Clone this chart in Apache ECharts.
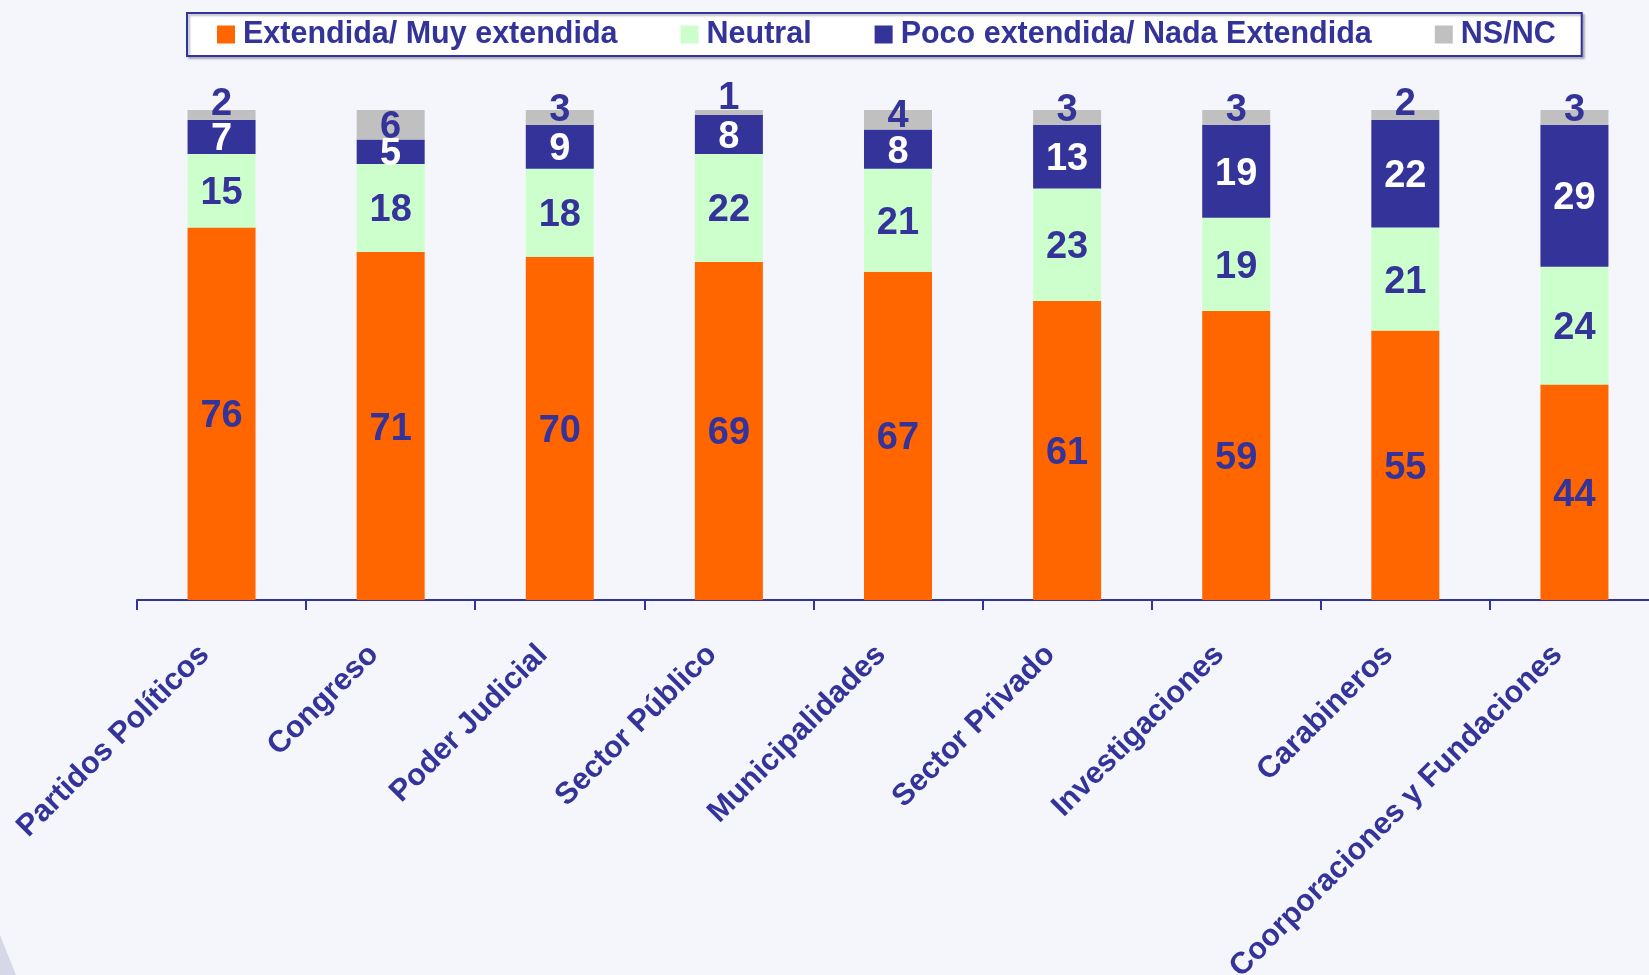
<!DOCTYPE html>
<html>
<head>
<meta charset="utf-8">
<script src="https://cdn.jsdelivr.net/npm/echarts@6/dist/echarts.min.js"></script>
<style>
html,body{margin:0;padding:0;background:#F5F6FB;}
#chart{width:1649px;height:975px;}
</style>
</head>
<body>
<div id="chart"></div>
<script>
const categories = ['Partidos Políticos','Congreso','Poder Judicial','Sector Público','Municipalidades','Sector Privado','Investigaciones','Carabineros','Coorporaciones y Fundaciones'];
const seriesNames = ['Extendida/ Muy extendida','Neutral','Poco extendida/ Nada Extendida','NS/NC'];
const extendida = [76,71,70,69,67,61,59,55,44];
const neutral = [15,18,18,22,21,23,19,21,24];
const poco = [7,5,9,8,8,13,19,22,29];
const nsnc = [2,6,3,1,4,3,3,2,3];

const FONT = '"Liberation Sans", Arial, sans-serif';
const TXT = '#333399';
const colors = ['#FF6600','#CCFFCC','#333399','#C0C0C0'];
const labelColors = [TXT, TXT, '#FFFFFF', TXT];

function mkSeries(idx, values){
  return {
    name: seriesNames[idx],
    type: 'bar',
    stack: 'total',
    barWidth: 68,
    itemStyle: {color: colors[idx]},
    label: {
      show: true, position: 'inside', offset: [0, 3],
      color: labelColors[idx], fontFamily: FONT, fontWeight: 'bold', fontSize: 38
    },
    data: values.map(v => {
      if (idx === 3 && v < 5) {
        return {value: v, label: {offset: [0, -(18.3 - 3.87 * v)]}};
      }
      return v;
    })
  };
}

const chart = echarts.init(document.getElementById('chart'));
chart.setOption({
  backgroundColor: '#F5F6FB',
  animation: false,
  legend: {
    left: 187, top: 13,
    padding: [6, 26, 6, 30],
    itemGap: 63,
    itemWidth: 18, itemHeight: 18,
    icon: 'rect',
    borderColor: '#333399', borderWidth: 2,
    backgroundColor: '#FFFFFF',
    shadowColor: 'rgba(120,120,140,0.5)', shadowOffsetX: 2, shadowOffsetY: 2, shadowBlur: 2,
    textStyle: {color: TXT, fontFamily: FONT, fontWeight: 'bold', fontSize: 30.5, padding: [0,0,0,3]},
    data: seriesNames
  },
  grid: {left: 137, width: 1522, top: 110, height: 490, outerBoundsMode: 'none', containLabel: false},
  xAxis: {
    type: 'category',
    data: categories,
    axisLine: {show: true, lineStyle: {color: '#333399', width: 2}},
    axisTick: {show: true, alignWithLabel: false, length: 10, lineStyle: {color: '#333399', width: 2}},
    axisLabel: {
      rotate: 45, interval: 0, margin: 33,
      padding: [0, 24, 0, 0],
      color: TXT, fontFamily: FONT, fontWeight: 'bold', fontSize: 30.5
    }
  },
  yAxis: {type: 'value', min: 0, max: 100, show: false, splitLine: {show: false}},
  series: [mkSeries(0, extendida), mkSeries(1, neutral), mkSeries(2, poco), mkSeries(3, nsnc)],
  graphic: [{
    type: 'polygon', silent: true, z: -1,
    shape: {points: [[0,935],[0,975],[16,975]]},
    style: {fill: '#D6D8E8'}
  }]
});
</script>
</body>
</html>
